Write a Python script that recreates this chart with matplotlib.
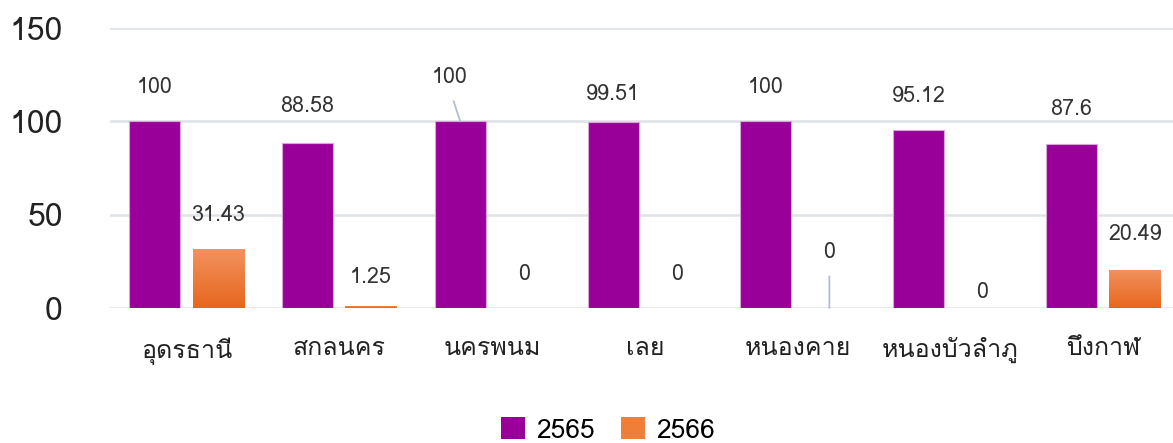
import matplotlib
matplotlib.use("Agg")
import matplotlib.pyplot as plt
import numpy as np
from matplotlib import font_manager
from matplotlib.ft2font import FT2Font
from matplotlib.patches import Patch

provinces = ["อุดรธานี", "สกลนคร", "นครพนม", "เลย", "หนองคาย", "หนองบัวลำภู", "บึงกาฬ"]
values_2565 = [100, 88.58, 100, 99.51, 100, 95.12, 87.6]
values_2566 = [31.43, 1.25, 0, 0, 0, 0, 20.49]
series_names = ["2565", "2566"]
y_ticks = [0, 50, 100, 150]

# label offsets in pixels (dx, dy) above each bar top, leader flag
offsets_2565 = [(0, 34, False), (0, 36, False), (-11, 44, True), (0, 28, False),
                (0, 34, False), (0, 34, False), (0, 35, False)]
offsets_2566 = [(0, 34, False), (0, 28, False), (0, 33, False), (0, 33, False),
                (0, 56, True), (0, 15, False), (0, 35, False)]


def find_thai_font():
    for entry in font_manager.fontManager.ttflist:
        try:
            font = FT2Font(entry.fname)
            if ord("ก") in font.get_charmap():
                return entry.name
        except Exception:
            continue
    return None


families = ["DejaVu Sans"]
thai = find_thai_font()
if thai:
    families = [thai, "DejaVu Sans"]
plt.rcParams["font.family"] = families

PURPLE = "#990099"
GRID = "#dfe2e7"

fig = plt.figure(figsize=(11.73, 4.43), dpi=100)
ax = fig.add_axes([110 / 1173, 135 / 443, 1063 / 1173, 280 / 443])

x = np.arange(len(provinces))
width = 0.334
shift = 0.208

bars_a = ax.bar(x - shift, values_2565, width, color=PURPLE, edgecolor="#d7a6d7", linewidth=0.8, zorder=3)
bars_b = ax.bar(x + shift, values_2566, width, color="none", edgecolor="none", zorder=3)

# orange vertical gradient inside each 2566 bar
grad = np.linspace(0, 1, 256).reshape(-1, 1)
cmap = matplotlib.colors.LinearSegmentedColormap.from_list("og", ["#e8661c", "#f29260"])
for bar in bars_b:
    h = bar.get_height()
    if h <= 0:
        continue
    x0 = bar.get_x()
    im = ax.imshow(grad, cmap=cmap, aspect="auto", origin="lower",
                   extent=[x0, x0 + bar.get_width(), 0, h], zorder=3)
    im.set_clip_path(bar)

ax.set_xlim(-0.5, -0.5 + 1063 / 152.8)
ax.set_ylim(0, 150)
ax.set_yticks(y_ticks)
ax.set_yticklabels([str(t) for t in y_ticks], fontsize=23, color="#222222")
ax.set_xticks(x)
ax.set_xticklabels(provinces, fontsize=18, color="#222222")
ax.tick_params(axis="y", length=0, pad=34)
ax.tick_params(axis="x", length=0, pad=21)
ax.grid(axis="y", color=GRID, linewidth=1.8, zorder=0)
for side in ["left", "right", "top", "bottom"]:
    ax.spines[side].set_visible(False)


def fmt(v):
    return f"{v:g}"


def label_bars(bars, values, offsets):
    for bar, v, (dx, dy, leader) in zip(bars, values, offsets):
        cx = bar.get_x() + bar.get_width() / 2
        if leader:
            ax.annotate(fmt(v), xy=(cx, v), xytext=(dx, dy), textcoords="offset pixels",
                        ha="center", va="center", fontsize=15.5, color="#333333",
                        arrowprops=dict(arrowstyle="-", color="#b3bfd1", lw=1.3,
                                        relpos=(0.5, 0), shrinkA=8, shrinkB=0),
                        zorder=4)
        else:
            ax.annotate(fmt(v), xy=(cx, v), xytext=(dx, dy), textcoords="offset pixels",
                        ha="center", va="center", fontsize=15.5, color="#333333", zorder=4)


label_bars(bars_a, values_2565, offsets_2565)
label_bars(bars_b, values_2566, offsets_2566)

handles = [Patch(facecolor=PURPLE), Patch(facecolor="#ef7f38")]
fig.legend(handles, series_names, loc="center", bbox_to_anchor=(608 / 1173, 1 - 430 / 443),
           ncol=2, frameon=False, fontsize=19, handlelength=0.9, handleheight=0.9,
           handletextpad=0.42, columnspacing=1.0, borderpad=0)

fig.savefig("out.png", dpi=100)
